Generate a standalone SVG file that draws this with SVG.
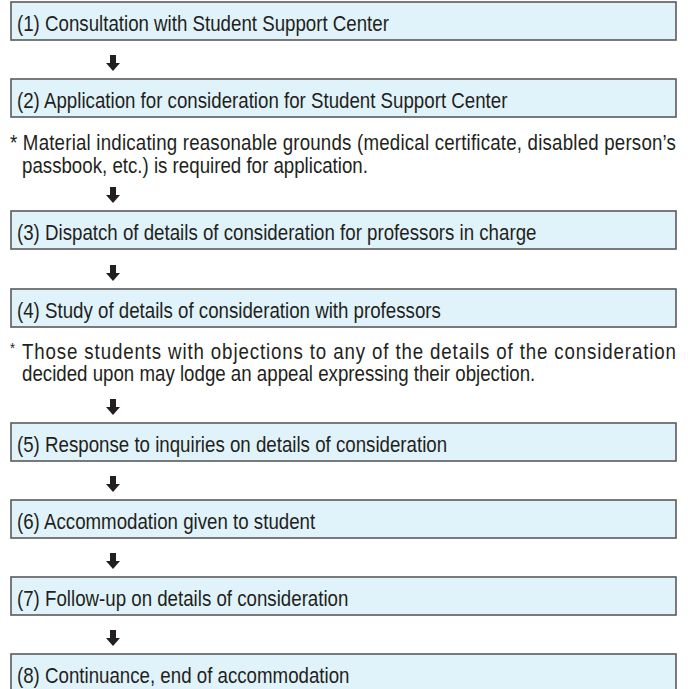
<svg xmlns="http://www.w3.org/2000/svg" width="692" height="689" viewBox="0 0 692 689">
<style>
.box{fill:#e1f3fa;stroke:#5a5a5a;stroke-width:1.6}
.t{font-family:"Liberation Sans",Arial,sans-serif;font-size:22px;fill:#231f20}
.arr{fill:#231f20}
</style>
<defs>
<path id="arrow" class="arr" d="M-3,0 H3 V8 H7 L0,16 L-7,8 H-3 Z"/>
</defs>
<rect width="692" height="689" fill="#ffffff"/>
<g id="connectors">
<use href="#arrow" x="113" y="55"/>
<use href="#arrow" x="113" y="187"/>
<use href="#arrow" x="113" y="265"/>
<use href="#arrow" x="113" y="399"/>
<use href="#arrow" x="113" y="476"/>
<use href="#arrow" x="113" y="553"/>
<use href="#arrow" x="113" y="630"/>
</g>
<g id="step1">
<rect class="box" x="11" y="2" width="665" height="38"/>
<text class="t" transform="scale(0.85 1)" x="20" y="31">(1) Consultation with Student Support Center</text>
</g>
<g id="step2">
<rect class="box" x="11" y="79" width="665" height="38"/>
<text class="t" transform="scale(0.85 1)" x="20" y="108">(2) Application for consideration for Student Support Center</text>
</g>
<g id="note1">
<text class="t" transform="scale(0.85 1)" x="11.76" y="150" textLength="783.5" lengthAdjust="spacing">* Material indicating reasonable grounds (medical certificate, disabled person’s</text>
<text class="t" transform="scale(0.85 1)" x="25.88" y="173">passbook, etc.) is required for application.</text>
</g>
<g id="step3">
<rect class="box" x="11" y="211" width="665" height="38"/>
<text class="t" transform="scale(0.85 1)" x="20" y="240">(3) Dispatch of details of consideration for professors in charge</text>
</g>
<g id="step4">
<rect class="box" x="11" y="289" width="665" height="38"/>
<text class="t" transform="scale(0.85 1)" x="20" y="318">(4) Study of details of consideration with professors</text>
</g>
<g id="note2">
<text class="t" transform="scale(0.85 1)" x="11.76" y="353" style="font-size:15px">*</text>
<text class="t" transform="scale(0.85 1)" x="25.88" y="359" textLength="769.4" lengthAdjust="spacing">Those students with objections to any of the details of the consideration</text>
<text class="t" transform="scale(0.85 1)" x="25.88" y="381">decided upon may lodge an appeal expressing their objection.</text>
</g>
<g id="step5">
<rect class="box" x="11" y="423" width="665" height="38"/>
<text class="t" transform="scale(0.85 1)" x="20" y="452">(5) Response to inquiries on details of consideration</text>
</g>
<g id="step6">
<rect class="box" x="11" y="500" width="665" height="38"/>
<text class="t" transform="scale(0.85 1)" x="20" y="529">(6) Accommodation given to student</text>
</g>
<g id="step7">
<rect class="box" x="11" y="577" width="665" height="38"/>
<text class="t" transform="scale(0.85 1)" x="20" y="606">(7) Follow-up on details of consideration</text>
</g>
<g id="step8">
<rect class="box" x="11" y="654" width="665" height="38"/>
<text class="t" transform="scale(0.85 1)" x="20" y="683">(8) Continuance, end of accommodation</text>
</g>
</svg>
